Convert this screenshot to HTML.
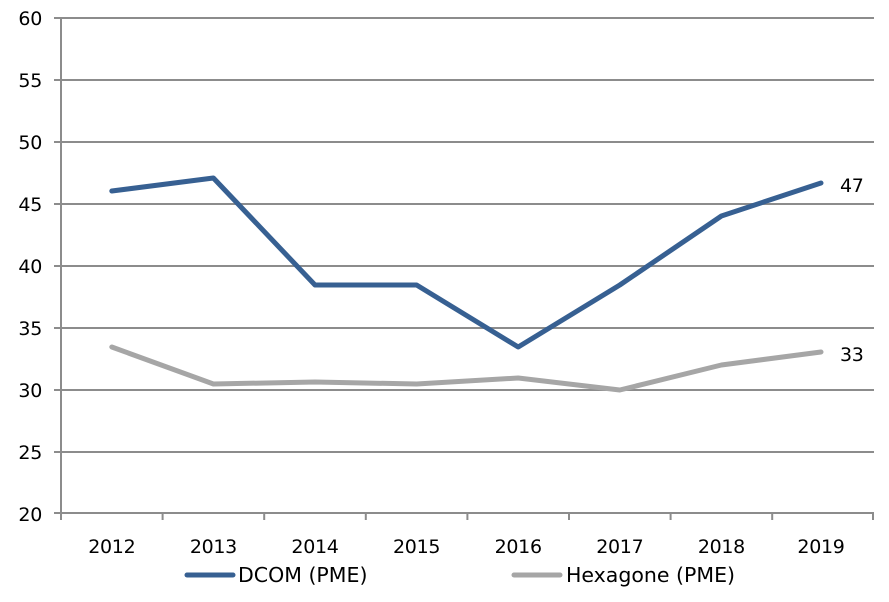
<!DOCTYPE html>
<html><head><style>
html,body{margin:0;padding:0;background:#fff;}
svg text{font-family:"DejaVu Sans","Liberation Sans",sans-serif;font-size:19px;fill:#000;}
</style></head><body>
<svg width="889" height="597" viewBox="0 0 889 597" xmlns="http://www.w3.org/2000/svg">
<g stroke="#8c8c8c" stroke-width="2">
<line x1="54" y1="18" x2="874" y2="18"/>
<line x1="54" y1="80" x2="874" y2="80"/>
<line x1="54" y1="142" x2="874" y2="142"/>
<line x1="54" y1="204" x2="874" y2="204"/>
<line x1="54" y1="266" x2="874" y2="266"/>
<line x1="54" y1="328" x2="874" y2="328"/>
<line x1="54" y1="390" x2="874" y2="390"/>
<line x1="54" y1="452" x2="874" y2="452"/>
<line x1="54" y1="513" x2="874" y2="513"/>
<line x1="61" y1="18" x2="61" y2="520"/>
<line x1="162.6" y1="513" x2="162.6" y2="520"/>
<line x1="264.2" y1="513" x2="264.2" y2="520"/>
<line x1="365.8" y1="513" x2="365.8" y2="520"/>
<line x1="467.4" y1="513" x2="467.4" y2="520"/>
<line x1="569" y1="513" x2="569" y2="520"/>
<line x1="670.6" y1="513" x2="670.6" y2="520"/>
<line x1="772.2" y1="513" x2="772.2" y2="520"/>
<line x1="873" y1="513" x2="873" y2="520"/>
</g>
<g text-anchor="end" letter-spacing="-0.3">
<text x="42" y="25">60</text><text x="42" y="87">55</text><text x="42" y="149">50</text>
<text x="42" y="211">45</text><text x="42" y="273">40</text><text x="42" y="335">35</text>
<text x="42" y="397">30</text><text x="42" y="459">25</text><text x="42" y="521">20</text>
</g>
<g text-anchor="middle" letter-spacing="-0.3">
<text x="111.8" y="553">2012</text><text x="213.4" y="553">2013</text><text x="315" y="553">2014</text>
<text x="416.6" y="553">2015</text><text x="518.2" y="553">2016</text><text x="619.8" y="553">2017</text>
<text x="721.4" y="553">2018</text><text x="821" y="553">2019</text>
</g>
<polyline fill="none" stroke="#a6a6a6" stroke-width="5" stroke-linejoin="round" stroke-linecap="round"
 points="111.8,347 213.4,384 315,382 416.6,384 518.2,378 619.8,390 721.4,365 821,352"/>
<polyline fill="none" stroke="#376092" stroke-width="5" stroke-linejoin="round" stroke-linecap="round"
 points="111.8,191 213.4,178 315,285 416.6,285 518.2,347 619.8,285 721.4,216 821,183"/>
<g letter-spacing="-0.3">
<text x="840" y="192">47</text>
<text x="840" y="361">33</text>
</g>
<line x1="187" y1="575" x2="233" y2="575" stroke="#376092" stroke-width="5" stroke-linecap="round"/>
<text x="238" y="582" style="font-size:20.5px">DCOM (PME)</text>
<line x1="514" y1="575" x2="560" y2="575" stroke="#a6a6a6" stroke-width="5" stroke-linecap="round"/>
<text x="566" y="582" style="font-size:20.5px">Hexagone (PME)</text>
</svg>
</body></html>
